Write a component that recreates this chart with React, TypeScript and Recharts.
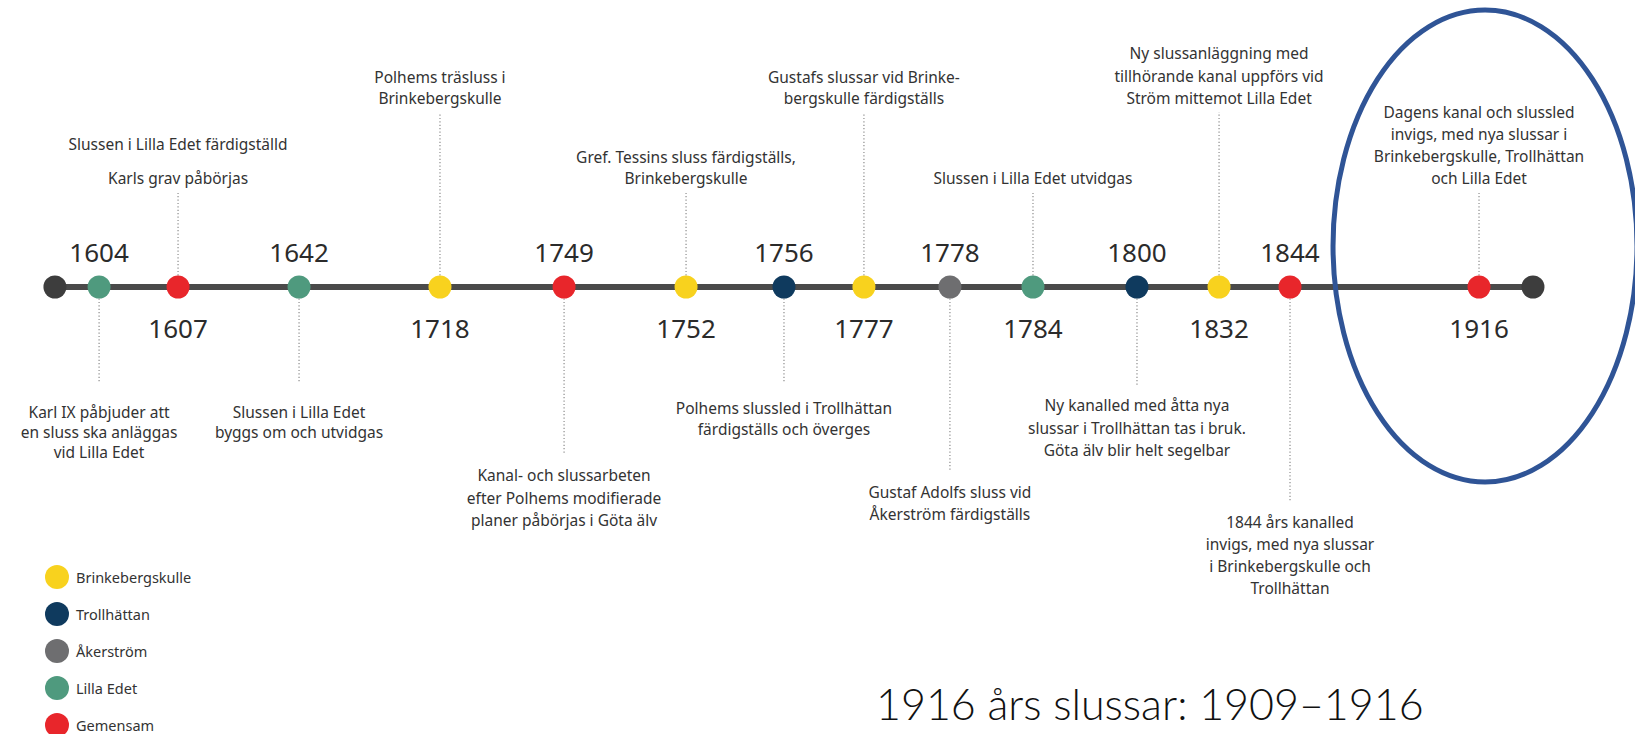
import React from 'react';
import { ComposedChart, Scatter, XAxis, YAxis, ReferenceDot } from 'recharts';

// ---------- data ----------
const eventYears = ['1604', '1607', '1642', '1718', '1749', '1752', '1756', '1777', '1778', '1784', '1800', '1832', '1844', '1916'];
const eventSites = ['Lilla Edet', 'Gemensam', 'Lilla Edet', 'Brinkebergskulle', 'Gemensam', 'Brinkebergskulle', 'Trollhättan', 'Brinkebergskulle', 'Åkerström', 'Lilla Edet', 'Trollhättan', 'Brinkebergskulle', 'Gemensam', 'Gemensam'];
// position along the timeline track (0–100)
const trackPos = [6.06, 10.89, 18.29, 26.91, 34.5, 41.96, 47.95, 52.84, 58.1, 63.18, 69.54, 74.56, 78.9, 90.46];
const endPos = [3.36, 93.76];
const descriptions: string[][] = [
  ['Karl IX påbjuder att', 'en sluss ska anläggas', 'vid Lilla Edet'],
  ['Slussen i Lilla Edet färdigställd', 'Karls grav påbörjas'],
  ['Slussen i Lilla Edet', 'byggs om och utvidgas'],
  ['Polhems träsluss i', 'Brinkebergskulle'],
  ['Kanal- och slussarbeten', 'efter Polhems modifierade', 'planer påbörjas i Göta älv'],
  ['Gref. Tessins sluss färdigställs,', 'Brinkebergskulle'],
  ['Polhems slussled i Trollhättan', 'färdigställs och överges'],
  ['Gustafs slussar vid Brinke-', 'bergskulle färdigställs'],
  ['Gustaf Adolfs sluss vid', 'Åkerström färdigställs'],
  ['Slussen i Lilla Edet utvidgas'],
  ['Ny kanalled med åtta nya', 'slussar i Trollhättan tas i bruk.', 'Göta älv blir helt segelbar'],
  ['Ny slussanläggning med', 'tillhörande kanal uppförs vid', 'Ström mittemot Lilla Edet'],
  ['1844 års kanalled', 'invigs, med nya slussar', 'i Brinkebergskulle och', 'Trollhättan'],
  ['Dagens kanal och slussled', 'invigs, med nya slussar i', 'Brinkebergskulle, Trollhättan', 'och Lilla Edet'],
];
const sites = ['Brinkebergskulle', 'Trollhättan', 'Åkerström', 'Lilla Edet', 'Gemensam'];
const caption = '1916 års slussar: 1909–1916';

// ---------- styles / layout ----------
const siteColors: Record<string, string> = {
  Brinkebergskulle: '#F8D21E',
  Trollhättan: '#0F3A5E',
  'Åkerström': '#6E6E70',
  'Lilla Edet': '#4F9A7E',
  Gemensam: '#E8262B',
};
const END_COLOR = '#3d3d3d';
const LINE_COLOR = '#4a4a4a';
const TEXT_COLOR = '#333333';
const FONT = '"Noto Sans", sans-serif';
// side: -1 description above, 1 below; leader: px from dot centre; text: px to nearest line centre; lh: line height
const LAYOUT = [
  { side: 1, leader: 96, text: 125, lh: 20 },
  { side: -1, leader: 94, text: 109, lh: 34 },
  { side: 1, leader: 96, text: 125, lh: 20 },
  { side: -1, leader: 174, text: 189, lh: 21 },
  { side: 1, leader: 168, text: 188, lh: 22.5 },
  { side: -1, leader: 94, text: 109, lh: 21 },
  { side: 1, leader: 96, text: 121, lh: 20.5 },
  { side: -1, leader: 174, text: 189, lh: 21 },
  { side: 1, leader: 185, text: 205, lh: 22 },
  { side: -1, leader: 94, text: 109, lh: 21 },
  { side: 1, leader: 98, text: 118, lh: 22.5 },
  { side: -1, leader: 175, text: 189, lh: 22.5 },
  { side: 1, leader: 215, text: 235, lh: 22 },
  { side: -1, leader: 94, text: 109, lh: 22 },
];

const events = eventYears.map((year, i) => ({ pos: trackPos[i], y: 0, year, site: eventSites[i], lines: descriptions[i], idx: i }));
const ends = endPos.map((pos) => ({ pos, y: 0 }));

const R = 11.5;

const makeShape = (color: string) => (props: any) => {
  const { cx, cy, payload } = props;
  if (cx == null || cy == null) return null;
  const L = LAYOUT[payload.idx];
  const lines: string[] = payload.lines;
  const n = lines.length;
  const yearY = L.side === 1 ? cy - 35 : cy + 41;
  return (
    <g>
      <line x1={cx} x2={cx} y1={cy + L.side * R} y2={cy + L.side * L.leader} stroke="#8c8c8c" strokeWidth={1.2} strokeDasharray="1.2 2.2" />
      <circle cx={cx} cy={cy} r={R} fill={color} />
      <text x={cx} y={yearY} textAnchor="middle" dominantBaseline="central" fontFamily={FONT} fontSize={26} fill="#2b2b2b">
        {payload.year}
      </text>
      {lines.map((t, i) => {
        const y = L.side === 1 ? cy + L.text + i * L.lh : cy - L.text - (n - 1 - i) * L.lh;
        return (
          <text key={i} x={cx} y={y} textAnchor="middle" dominantBaseline="central" fontFamily={FONT} fontSize={15.5} fill={TEXT_COLOR}>
            {t}
          </text>
        );
      })}
    </g>
  );
};

const endShape = (props: any) => {
  const { cx, cy } = props;
  if (cx == null || cy == null) return null;
  return <circle cx={cx} cy={cy} r={R} fill={END_COLOR} />;
};

const ellipseShape = (props: any) => {
  const { cx, cy } = props;
  if (cx == null || cy == null) return null;
  return <ellipse cx={cx + 6} cy={cy - 41} rx={152} ry={236} fill="none" stroke="#2F5496" strokeWidth={5} />;
};

export default function App() {
  return (
    <div style={{ position: 'absolute', left: 0, top: 0, width: 1635, height: 734, background: '#fff', overflow: 'hidden' }}>
      <ComposedChart width={1635} height={734} margin={{ top: 0, right: 0, bottom: 160, left: 0 }}>
        <XAxis type="number" dataKey="pos" domain={[0, 100]} hide />
        <YAxis type="number" dataKey="y" domain={[-1, 1]} hide />
        <Scatter data={ends} dataKey="y" line={{ stroke: LINE_COLOR, strokeWidth: 6 }} shape={endShape} isAnimationActive={false} />
        {sites.map((s) => (
          <Scatter
            key={s}
            name={s}
            data={events.filter((e) => e.site === s)}
            dataKey="y"
            fill={siteColors[s]}
            shape={makeShape(siteColors[s])}
            isAnimationActive={false}
          />
        ))}
        <ReferenceDot x={trackPos[13]} y={0} ifOverflow="visible" shape={ellipseShape} />
      </ComposedChart>
      <svg width={1635} height={734} style={{ position: 'absolute', left: 0, top: 0, pointerEvents: 'none' }}>
        {sites.map((s, i) => (
          <g key={s}>
            <circle cx={57} cy={577 + i * 37} r={12} fill={siteColors[s]} />
            <text x={76} y={577 + i * 37} dominantBaseline="central" fontFamily={FONT} fontSize={14.5} fill={TEXT_COLOR}>
              {s}
            </text>
          </g>
        ))}
        <text x={876} y={720} fontFamily="Lato, sans-serif" fontWeight={300} fontSize={43} fill="#111">
          {caption}
        </text>
      </svg>
    </div>
  );
}
